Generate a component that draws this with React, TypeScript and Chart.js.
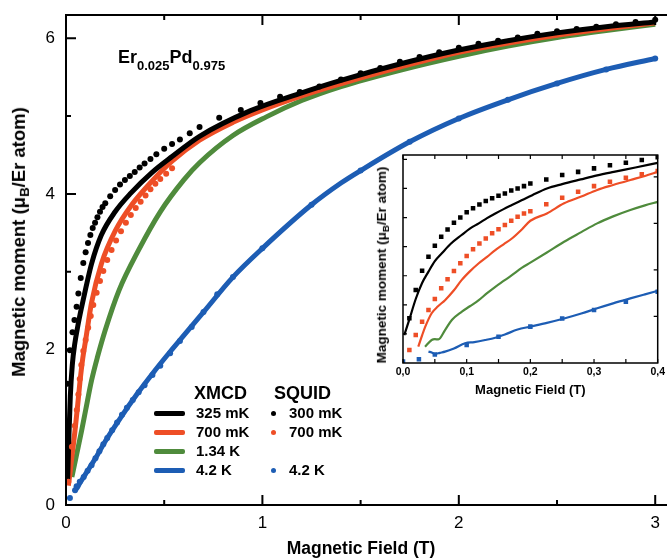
import React, { useEffect, useRef } from 'react';
import { Chart, registerables } from 'chart.js';

Chart.register(...registerables);

const FONT = '"Liberation Sans", Arial, Helvetica, sans-serif';
const BLACK = '#000000';
const RED = '#ee4e26';
const GREEN = '#4f8b3c';
const BLUE = '#1d5db4';

// ---------------- main plot data (field in T, moment in µB/Er atom) ----------------
const xmcd325Field = [0.008, 0.015, 0.022, 0.032, 0.045, 0.06, 0.08, 0.1, 0.13, 0.18, 0.25, 0.33, 0.44, 0.54, 0.68, 0.94, 1.2, 1.4, 1.7, 2.0, 2.25, 2.5, 2.75, 3.0];
const xmcd325Moment = [0.3, 0.9, 1.4, 1.8, 2.08, 2.3, 2.55, 2.78, 3.1, 3.47, 3.77, 4.01, 4.28, 4.48, 4.74, 5.07, 5.3, 5.46, 5.67, 5.85, 5.97, 6.07, 6.15, 6.21];

const xmcd700Field = [0.012, 0.02, 0.03, 0.046, 0.06, 0.071, 0.085, 0.1, 0.13, 0.18, 0.25, 0.335, 0.44, 0.54, 0.68, 0.85, 1.0, 1.2, 1.35, 1.7, 2.0, 2.5, 3.0];
const xmcd700Moment = [0.25, 0.4, 0.62, 0.96, 1.3, 1.58, 1.88, 2.12, 2.6, 3.1, 3.52, 3.86, 4.17, 4.42, 4.69, 4.92, 5.08, 5.26, 5.38, 5.63, 5.82, 6.04, 6.2];

const xmcd134Field = [0.03, 0.045, 0.06, 0.08, 0.1, 0.13, 0.16, 0.2, 0.27, 0.37, 0.48, 0.6, 0.68, 0.85, 1.02, 1.2, 1.4, 1.7, 2.0, 2.25, 2.5, 2.75, 3.0];
const xmcd134Moment = [0.36, 0.54, 0.72, 0.96, 1.22, 1.6, 1.9, 2.25, 2.76, 3.28, 3.77, 4.18, 4.4, 4.75, 4.99, 5.2, 5.38, 5.59, 5.77, 5.9, 6.01, 6.1, 6.18];

const xmcd42Field = [0.04, 0.05, 0.07, 0.1, 0.15, 0.2, 0.28, 0.36, 0.45, 0.53, 0.6, 0.7, 0.85, 1.0, 1.25, 1.4, 1.5, 1.75, 2.0, 2.25, 2.5, 2.75, 3.0];
const xmcd42Moment = [0.2, 0.2, 0.28, 0.4, 0.6, 0.82, 1.13, 1.42, 1.72, 1.97, 2.18, 2.48, 2.93, 3.3, 3.86, 4.14, 4.3, 4.67, 4.97, 5.21, 5.42, 5.6, 5.74];

const squid300Field = [0.006, 0.02, 0.033, 0.043, 0.054, 0.063, 0.075, 0.088, 0.1, 0.112, 0.124, 0.136, 0.148, 0.16, 0.173, 0.186, 0.2, 0.225, 0.25, 0.275, 0.3, 0.325, 0.35, 0.375, 0.4, 0.43, 0.46, 0.5, 0.54, 0.58, 0.63, 0.68, 0.78, 0.89, 0.99, 1.09, 1.19, 1.29, 1.4, 1.5, 1.6, 1.7, 1.8, 1.9, 2.0, 2.1, 2.2, 2.3, 2.4, 2.5, 2.6, 2.7, 2.8, 2.9, 3.0];
const squid300Moment = [1.56, 1.99, 2.22, 2.38, 2.55, 2.72, 2.92, 3.11, 3.25, 3.37, 3.47, 3.56, 3.63, 3.7, 3.77, 3.83, 3.88, 3.97, 4.05, 4.12, 4.18, 4.23, 4.28, 4.34, 4.39, 4.45, 4.51, 4.58, 4.64, 4.7, 4.78, 4.86, 4.98, 5.08, 5.17, 5.25, 5.31, 5.38, 5.47, 5.55, 5.62, 5.7, 5.76, 5.82, 5.88, 5.93, 5.97, 6.01, 6.06, 6.09, 6.12, 6.15, 6.18, 6.21, 6.24];

const squid700Field = [0.012, 0.03, 0.045, 0.055, 0.063, 0.07, 0.078, 0.088, 0.1, 0.113, 0.126, 0.139, 0.156, 0.173, 0.19, 0.21, 0.232, 0.255, 0.28, 0.305, 0.33, 0.355, 0.38, 0.405, 0.43, 0.455, 0.48, 0.51, 0.54];
const squid700Moment = [0.3, 0.75, 1.02, 1.22, 1.42, 1.62, 1.8, 1.98, 2.12, 2.28, 2.43, 2.57, 2.73, 2.88, 3.01, 3.15, 3.28, 3.4, 3.52, 3.63, 3.73, 3.82, 3.9, 3.98, 4.06, 4.13, 4.19, 4.26, 4.33];

const squid42Field = [0.02, 0.046, 0.054, 0.07, 0.09, 0.11, 0.13, 0.15, 0.17, 0.19, 0.21, 0.235, 0.26, 0.285, 0.31, 0.34, 0.37, 0.4, 0.44, 0.48, 0.53, 0.58, 0.64, 0.7, 0.77, 0.85, 1.0, 1.25, 1.5, 1.75, 2.0, 2.25, 2.5, 2.75, 3.0];
const squid42Moment = [0.09, 0.19, 0.24, 0.3, 0.36, 0.44, 0.51, 0.6, 0.69, 0.78, 0.86, 0.96, 1.06, 1.16, 1.25, 1.35, 1.45, 1.54, 1.67, 1.79, 1.95, 2.11, 2.29, 2.48, 2.71, 2.93, 3.3, 3.86, 4.3, 4.67, 4.97, 5.21, 5.42, 5.6, 5.74];

const mainXLabels = [0, 1, 2, 3];
const mainYLabels = [0, 2, 4, 6];
const mainXTicks = [0, 0.5, 1, 1.5, 2, 2.5, 3];
const mainYTicks = [0, 1, 2, 3, 4, 5, 6];

// ---------------- inset data (field in T, moment in inset units) ----------------
const inXmcd325Field = [0.002, 0.01, 0.02, 0.03, 0.04, 0.05, 0.061, 0.075, 0.092, 0.105, 0.119, 0.132, 0.145, 0.158, 0.171, 0.187, 0.203, 0.226, 0.25, 0.279, 0.305, 0.331, 0.365, 0.4];
const inXmcd325Moment = [0.96, 1.5, 2.2, 2.75, 3.14, 3.5, 3.77, 4.1, 4.4, 4.62, 4.8, 4.98, 5.14, 5.29, 5.43, 5.6, 5.77, 6.0, 6.15, 6.31, 6.45, 6.57, 6.72, 6.88];

const inXmcd700Field = [0.024, 0.03, 0.035, 0.045, 0.055, 0.066, 0.08, 0.092, 0.105, 0.119, 0.132, 0.145, 0.158, 0.171, 0.187, 0.2, 0.226, 0.253, 0.28, 0.305, 0.33, 0.357, 0.38, 0.4];
const inXmcd700Moment = [0.56, 0.95, 1.25, 1.71, 1.95, 2.16, 2.5, 2.85, 3.15, 3.43, 3.65, 3.88, 4.08, 4.28, 4.6, 4.89, 5.14, 5.49, 5.72, 5.95, 6.12, 6.29, 6.43, 6.57];

const inXmcd134Field = [0.0346, 0.045, 0.05, 0.0556, 0.066, 0.0767, 0.092, 0.105, 0.119, 0.132, 0.145, 0.158, 0.171, 0.187, 0.2, 0.226, 0.253, 0.28, 0.305, 0.33, 0.357, 0.38, 0.4];
const inXmcd134Moment = [0.56, 0.79, 0.82, 0.81, 1.13, 1.48, 1.76, 1.95, 2.16, 2.4, 2.62, 2.82, 3.02, 3.28, 3.45, 3.8, 4.17, 4.5, 4.8, 5.04, 5.26, 5.42, 5.54];

const inXmcd42Field = [0.04, 0.045, 0.05, 0.058, 0.066, 0.08, 0.0976, 0.112, 0.129, 0.145, 0.16, 0.18, 0.2, 0.226, 0.253, 0.28, 0.305, 0.33, 0.357, 0.38, 0.4];
const inXmcd42Moment = [0.39, 0.36, 0.31, 0.35, 0.39, 0.5, 0.68, 0.72, 0.79, 0.87, 0.98, 1.15, 1.25, 1.38, 1.53, 1.7, 1.88, 2.05, 2.22, 2.36, 2.48];

const inSquid300Field = [0.01, 0.02, 0.03, 0.04, 0.05, 0.06, 0.07, 0.08, 0.09, 0.1, 0.11, 0.12, 0.13, 0.14, 0.15, 0.16, 0.17, 0.18, 0.19, 0.2, 0.225, 0.25, 0.275, 0.3, 0.325, 0.35, 0.375, 0.4];
const inSquid300Moment = [1.54, 2.51, 3.17, 3.65, 4.03, 4.34, 4.59, 4.82, 5.0, 5.18, 5.32, 5.45, 5.57, 5.66, 5.75, 5.83, 5.93, 6.0, 6.08, 6.17, 6.31, 6.46, 6.57, 6.69, 6.8, 6.88, 6.98, 7.07];

const inSquid700Field = [0.01, 0.02, 0.03, 0.04, 0.05, 0.06, 0.07, 0.08, 0.09, 0.1, 0.11, 0.12, 0.13, 0.14, 0.15, 0.16, 0.17, 0.18, 0.19, 0.2, 0.225, 0.25, 0.275, 0.3, 0.325, 0.35, 0.375, 0.4];
const inSquid700Moment = [0.45, 0.96, 1.42, 1.82, 2.2, 2.57, 2.88, 3.16, 3.43, 3.68, 3.91, 4.11, 4.28, 4.46, 4.6, 4.74, 4.89, 5.03, 5.14, 5.22, 5.46, 5.68, 5.89, 6.08, 6.23, 6.37, 6.49, 6.6];

const inSquid42Field = [0.0, 0.025, 0.05, 0.1, 0.15, 0.2, 0.25, 0.3, 0.35, 0.4];
const inSquid42Moment = [0.05, 0.13, 0.29, 0.62, 0.9, 1.25, 1.53, 1.82, 2.11, 2.45];

const inXTicks = [0, 0.05, 0.1, 0.15, 0.2, 0.25, 0.3, 0.35, 0.4];
const inXLabels = [0, 0.1, 0.2, 0.3, 0.4];
const inYLeftTicks = [1, 2, 3, 4, 5, 6, 7];
const inYRightTicks = [1, 2, 3, 4];

// legend texts
const xmcdLegend = ['325 mK', '700 mK', '1.34 K', '4.2 K'];
const squidLegend = ['300 mK', '700 mK', '', '4.2 K'];
const legendColors = [BLACK, RED, GREEN, BLUE];

const pts = (xs: number[], ys: number[]) => xs.map((x, i) => ({ x, y: ys[i] }));

type Side = 'top' | 'bottom' | 'left' | 'right';
type TickSpec = { scale: string; side: Side; values: number[]; len: (v: number) => number };

function frameTicksPlugin(id: string, sides: Side[], width: number, tickWidth: number, specs: TickSpec[]) {
  return {
    id,
    afterDraw(chart: any) {
      const { ctx } = chart;
      const { left, right, top, bottom } = chart.chartArea;
      ctx.save();
      ctx.strokeStyle = '#000';
      ctx.lineWidth = width;
      ctx.lineCap = 'square';
      ctx.beginPath();
      if (sides.includes('top')) { ctx.moveTo(left, top); ctx.lineTo(right, top); }
      if (sides.includes('bottom')) { ctx.moveTo(left, bottom); ctx.lineTo(right, bottom); }
      if (sides.includes('left')) { ctx.moveTo(left, top); ctx.lineTo(left, bottom); }
      if (sides.includes('right')) { ctx.moveTo(right, top); ctx.lineTo(right, bottom); }
      ctx.stroke();
      ctx.lineCap = 'butt';
      ctx.lineWidth = tickWidth;
      ctx.beginPath();
      for (const s of specs) {
        const sc = chart.scales[s.scale];
        for (const v of s.values) {
          const p = sc.getPixelForValue(v);
          const L = s.len(v);
          if (s.side === 'bottom') { ctx.moveTo(p, bottom); ctx.lineTo(p, bottom - L); }
          if (s.side === 'top') { ctx.moveTo(p, top); ctx.lineTo(p, top + L); }
          if (s.side === 'left') { ctx.moveTo(left, p); ctx.lineTo(left + L, p); }
          if (s.side === 'right') { ctx.moveTo(right, p); ctx.lineTo(right - L, p); }
        }
      }
      ctx.stroke();
      ctx.restore();
    },
  };
}

const lineDs = (label: string, data: any[], color: string, w: number) => ({
  label, data, showLine: true, borderColor: color, backgroundColor: color, borderWidth: w,
  pointRadius: 0, pointHoverRadius: 0, cubicInterpolationMode: 'monotone', fill: false,
});
const dotDs = (label: string, data: any[], color: string, r: number, style = 'circle') => ({
  label, data, showLine: false, pointRadius: r, pointHoverRadius: r, pointStyle: style,
  pointBackgroundColor: color, pointBorderColor: color, pointBorderWidth: 0, backgroundColor: color, borderColor: color,
});

const noPadX = (h: number) => (s: any) => { s.height = h; s.paddingLeft = 0; s.paddingRight = 0; s.paddingTop = 0; s.paddingBottom = 0; };
const noPadY = (w: number) => (s: any) => { s.width = w; s.paddingLeft = 0; s.paddingRight = 0; s.paddingTop = 0; s.paddingBottom = 0; };

const Txt = ({ x, cy, size, bold = true, children }: any) => (
  <div style={{
    position: 'absolute', left: x, top: cy - size, height: size * 2, lineHeight: `${size * 2}px`,
    fontSize: size, fontWeight: bold ? 'bold' : 'normal', fontFamily: FONT, whiteSpace: 'nowrap', color: '#000',
  }}>{children}</div>
);

const VTitle = ({ cx, cy, size }: any) => (
  <div style={{
    position: 'absolute', left: cx, top: cy, transform: 'translate(-50%, -50%) rotate(-90deg)',
    fontFamily: FONT, fontWeight: 'bold', fontSize: size, whiteSpace: 'nowrap', lineHeight: 1.2, color: '#000',
  }}>
    Magnetic moment (μ<span style={{ fontSize: '0.72em', position: 'relative', top: '0.32em' }}>B</span>/Er atom)
  </div>
);

export default function App() {
  const mainRef = useRef<HTMLCanvasElement | null>(null);
  const insetRef = useRef<HTMLCanvasElement | null>(null);

  useEffect(() => {
    const mainChart = new Chart(mainRef.current as HTMLCanvasElement, {
      type: 'scatter',
      data: {
        datasets: [
          dotDs('SQUID 300 mK', pts(squid300Field, squid300Moment), BLACK, 3),
          dotDs('SQUID 700 mK', pts(squid700Field, squid700Moment), RED, 3),
          dotDs('SQUID 4.2 K', pts(squid42Field, squid42Moment), BLUE, 3),
          lineDs('XMCD 325 mK', pts(xmcd325Field, xmcd325Moment), BLACK, 5),
          lineDs('XMCD 700 mK', pts(xmcd700Field, xmcd700Moment), RED, 5),
          lineDs('XMCD 1.34 K', pts(xmcd134Field, xmcd134Moment), GREEN, 5),
          lineDs('XMCD 4.2 K', pts(xmcd42Field, xmcd42Moment), BLUE, 5),
        ] as any,
      },
      options: {
        animation: false,
        responsive: false,
        maintainAspectRatio: false,
        layout: { autoPadding: false, padding: { top: 15, left: 0, right: 0, bottom: 0 } },
        plugins: { legend: { display: false }, tooltip: { enabled: false } },
        scales: {
          x: {
            type: 'linear', position: 'bottom', min: 0, max: 3.06,
            afterBuildTicks: (s: any) => { s.ticks = mainXLabels.map((v) => ({ value: v })); },
            afterFit: noPadX(53),
            grid: { display: false, drawTicks: false, tickLength: 0 },
            border: { display: false },
            ticks: { color: '#000', font: { family: FONT, size: 17 }, padding: 8, maxRotation: 0, autoSkip: false, callback: (v: any) => String(v) },
            title: { display: false },
          },
          y: {
            type: 'linear', position: 'left', min: 0, max: 6.3,
            afterBuildTicks: (s: any) => { s.ticks = mainYLabels.map((v) => ({ value: v })); },
            afterFit: noPadY(66),
            grid: { display: false, drawTicks: false, tickLength: 0 },
            border: { display: false },
            ticks: { color: '#000', font: { family: FONT, size: 17 }, padding: 11, autoSkip: false, callback: (v: any) => String(v) },
          },
        },
      } as any,
      plugins: [frameTicksPlugin('mainFrame', ['top', 'left', 'bottom'], 2, 2, [
        { scale: 'x', side: 'bottom', values: mainXTicks, len: (v) => (Number.isInteger(v) ? 10 : 5) },
        { scale: 'x', side: 'top', values: mainXTicks, len: (v) => (Number.isInteger(v) ? 10 : 5) },
        { scale: 'y', side: 'left', values: mainYTicks, len: (v) => (v % 2 === 0 ? 10 : 5) },
      ])],
    });

    const insetChart = new Chart(insetRef.current as HTMLCanvasElement, {
      type: 'scatter',
      data: {
        datasets: [
          dotDs('SQUID 300 mK', pts(inSquid300Field, inSquid300Moment), BLACK, 3.2, 'rect'),
          dotDs('SQUID 700 mK', pts(inSquid700Field, inSquid700Moment), RED, 3.2, 'rect'),
          dotDs('SQUID 4.2 K', pts(inSquid42Field, inSquid42Moment), BLUE, 3.2, 'rect'),
          lineDs('XMCD 325 mK', pts(inXmcd325Field, inXmcd325Moment), BLACK, 2.2),
          lineDs('XMCD 700 mK', pts(inXmcd700Field, inXmcd700Moment), RED, 2.2),
          lineDs('XMCD 1.34 K', pts(inXmcd134Field, inXmcd134Moment), GREEN, 2.2),
          lineDs('XMCD 4.2 K', pts(inXmcd42Field, inXmcd42Moment), BLUE, 2.2),
        ] as any,
      },
      options: {
        animation: false,
        responsive: false,
        maintainAspectRatio: false,
        layout: { autoPadding: false, padding: { top: 7, left: 0, right: 0, bottom: 0 } },
        plugins: { legend: { display: false }, tooltip: { enabled: false } },
        scales: {
          x: {
            type: 'linear', position: 'bottom', min: 0, max: 0.4,
            afterBuildTicks: (s: any) => { s.ticks = inXLabels.map((v) => ({ value: v })); },
            afterFit: noPadX(35),
            grid: { display: false, drawTicks: false, tickLength: 0 },
            border: { display: false },
            ticks: { color: '#000', font: { family: FONT, size: 10.5, weight: 'bold' }, padding: 3, maxRotation: 0, autoSkip: false, callback: (v: any) => Number(v).toFixed(1).replace('.', ',') },
            title: { display: true, text: 'Magnetic Field (T)', color: '#000', font: { family: FONT, size: 13, weight: 'bold' }, padding: 0 },
          },
          y: {
            type: 'linear', position: 'left', min: 0, max: 7.15,
            afterFit: noPadY(31),
            grid: { display: false, drawTicks: false, tickLength: 0 },
            border: { display: false },
            ticks: { display: false },
          },
          y2: {
            type: 'linear', position: 'right', min: 0, max: 4.47,
            afterFit: noPadY(9.3),
            grid: { display: false, drawTicks: false, tickLength: 0 },
            border: { display: false },
            ticks: { display: false },
          },
        },
      } as any,
      plugins: [frameTicksPlugin('insetFrame', ['top', 'left', 'bottom', 'right'], 1.5, 1.2, [
        { scale: 'x', side: 'bottom', values: inXTicks, len: () => 4 },
        { scale: 'x', side: 'top', values: inXTicks, len: () => 4 },
        { scale: 'y', side: 'left', values: inYLeftTicks, len: () => 4 },
        { scale: 'y2', side: 'right', values: inYRightTicks, len: () => 4 },
      ])],
    });

    return () => {
      mainChart.destroy();
      insetChart.destroy();
    };
  }, []);

  const rowY = [413, 432, 451, 470];

  return (
    <div style={{ position: 'fixed', left: 0, top: 0, width: 667, height: 558, background: '#fff', overflow: 'hidden' }}>
      <canvas ref={mainRef} width={667} height={558} style={{ position: 'absolute', left: 0, top: 0 }} />
      <canvas ref={insetRef} width={295} height={250} style={{ position: 'absolute', left: 372, top: 148 }} />

      <VTitle cx={19} cy={242} size={18.5} />
      <VTitle cx={382} cy={265} size={13.5} />

      <div style={{ position: 'absolute', left: 361, top: 548, transform: 'translate(-50%, -50%)', fontFamily: FONT, fontWeight: 'bold', fontSize: 17.5, whiteSpace: 'nowrap', lineHeight: 1.2, color: '#000' }}>
        Magnetic Field (T)
      </div>

      <Txt x={118} cy={56.5} size={18}>
        Er<span style={{ fontSize: 13, position: 'relative', top: 7 }}>0.025</span>Pd<span style={{ fontSize: 13, position: 'relative', top: 7 }}>0.975</span>
      </Txt>

      <Txt x={194} cy={393} size={18}>XMCD</Txt>
      <Txt x={274} cy={393} size={18}>SQUID</Txt>
      {xmcdLegend.map((t, i) => (
        <React.Fragment key={'x' + i}>
          <div style={{ position: 'absolute', left: 154, top: rowY[i] - 2.5, width: 31, height: 5, background: legendColors[i], borderRadius: 2 }} />
          <Txt x={196} cy={rowY[i]} size={15}>{t}</Txt>
        </React.Fragment>
      ))}
      {squidLegend.map((t, i) => (t ? (
        <React.Fragment key={'s' + i}>
          <div style={{ position: 'absolute', left: 271, top: rowY[i] - 2.5, width: 5, height: 5, borderRadius: '50%', background: legendColors[i] }} />
          <Txt x={289} cy={rowY[i]} size={15}>{t}</Txt>
        </React.Fragment>
      ) : null))}
    </div>
  );
}
